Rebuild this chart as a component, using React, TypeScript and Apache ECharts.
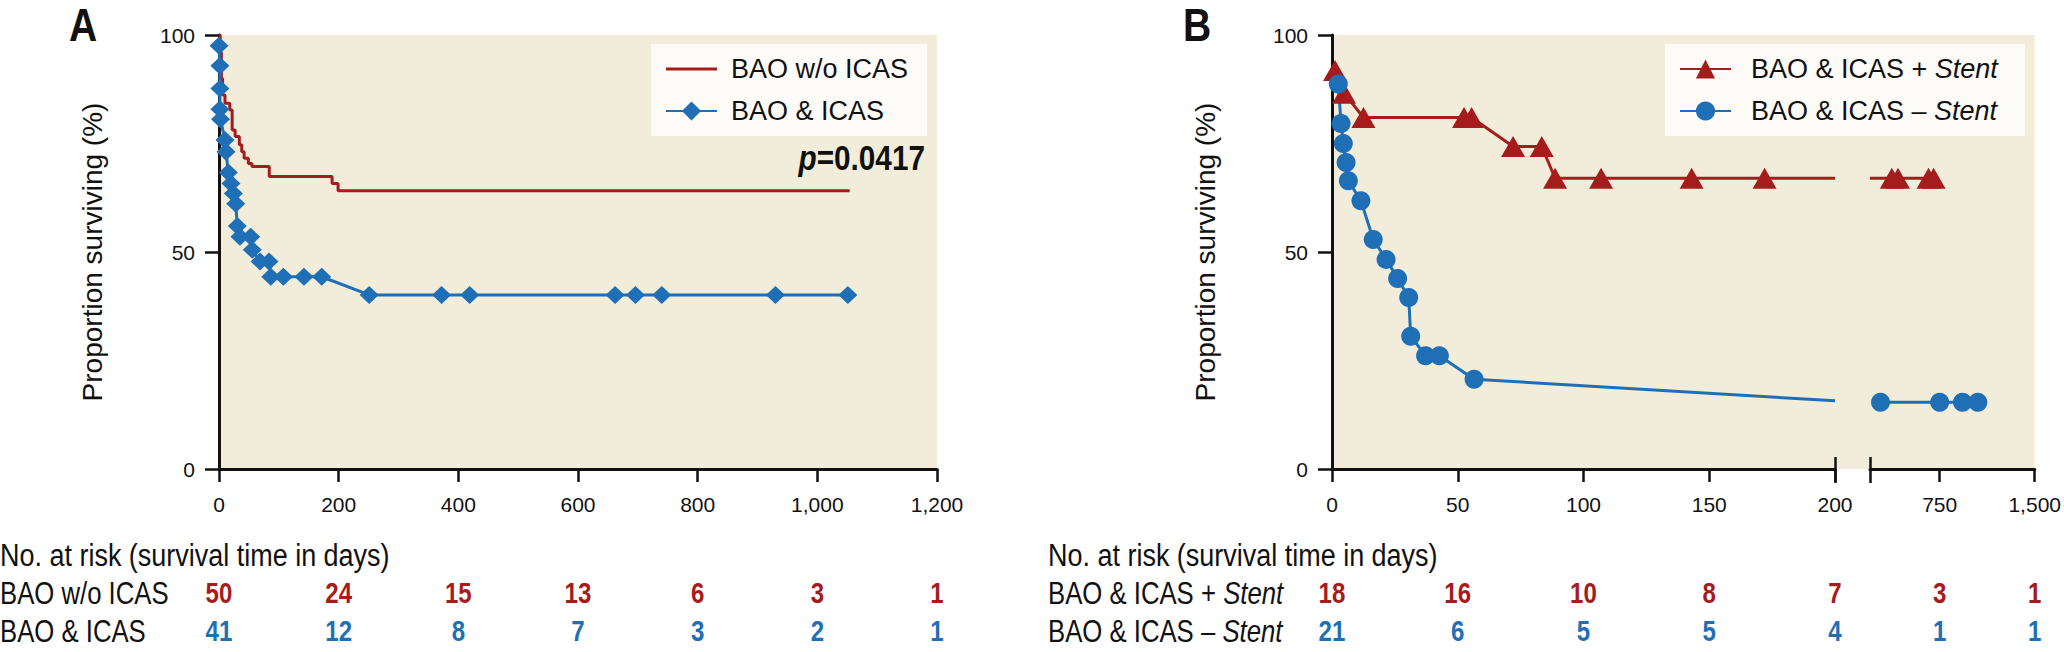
import React, { useEffect, useRef } from "react";
import * as echarts from "echarts";

const SANS = '"Liberation Sans", Arial, sans-serif';
const RED = "#a61c1c";
const BLUE = "#1f6fb7";
const INK = "#111111";
const PLOT_BG = "#f1edda";
const LEGEND_BG = "#fcfbf7";
const NARROW_SCALE = 0.83;

// ---------- Panel A ----------
const A_NAMES = ["BAO w/o ICAS", "BAO & ICAS"];
const A_NO_ICAS_DAYS = [0, 2, 4, 6, 10, 18, 22, 27, 34, 38, 42, 49, 55, 84, 189, 199, 1054];
const A_NO_ICAS_SURV = [100, 96, 90, 86.2, 84.3, 82.7, 78.1, 76.6, 74.7, 73.1, 71.6, 70.4, 69.7, 67.4, 65.8, 64.1, 64.1];
const A_ICAS_DAYS = [0, 1.5, 1.5, 1.5, 2.5, 10, 11.7, 15.6, 20, 24, 28, 30.6, 35, 53, 55.7, 68.6, 83.6, 86.5, 107.6, 142, 171.6, 251, 372, 419, 662, 696, 740, 930, 1051];
const A_ICAS_SURV = [97.5, 92.9, 87.7, 82.9, 80.6, 75.8, 73.1, 68.3, 65.8, 63.5, 61.1, 56.0, 53.5, 53.5, 50.5, 47.8, 47.8, 44.3, 44.3, 44.3, 44.3, 40.1, 40.1, 40.1, 40.1, 40.1, 40.1, 40.1, 40.1];
const A_TICKS = [0, 200, 400, 600, 800, 1000, 1200];
const A_RISK_NO_ICAS = [50, 24, 15, 13, 6, 3, 1];
const A_RISK_ICAS = [41, 12, 8, 7, 3, 2, 1];
const A_P_VALUE = "0.0417";

// ---------- Panel B ----------
const B_NAMES = ["BAO & ICAS + Stent", "BAO & ICAS \u2013 Stent"];
const B_BREAK_DAY = 200;
const B_STENT_DAYS_1 = [1.2, 4.8, 12.5, 52.5, 55.5, 72, 83.4, 88.7, 107, 143, 172, 200];
const B_STENT_SURV_1 = [91.8, 86.6, 81, 81, 81, 74.3, 74.3, 67, 67, 67, 67, 67];
const B_STENT_DAYS_2 = [200, 372, 421, 662, 702];
const B_STENT_SURV_2 = [67, 67, 67, 67, 67];
const B_NOSTENT_DAYS_1 = [2.5, 3.6, 4.5, 5.6, 6.5, 11.5, 16.4, 21.5, 26.1, 30.5, 31.3, 37.2, 42.7, 56.5, 200];
const B_NOSTENT_SURV_1 = [88.7, 79.6, 75, 70.6, 66.4, 61.8, 52.9, 48.3, 43.9, 39.5, 30.6, 26.1, 26.1, 20.7, 15.7];
const B_NOSTENT_DAYS_2 = [283, 750, 930, 1051];
const B_NOSTENT_SURV_2 = [15.4, 15.4, 15.4, 15.4];
const B_TICKS_1 = [0, 50, 100, 150, 200];
const B_TICKS_2 = [750, 1500];
const B_RISK_STENT = [18, 16, 10, 8, 7, 3, 1];
const B_RISK_NOSTENT = [21, 6, 5, 5, 4, 1, 1];

const Y_TITLE = "Proportion surviving (%)";
const RISK_TITLE = "No. at risk (survival time in days)";

const zip = (xs: number[], ys: number[]) => xs.map((x, i) => [x, ys[i]]);
const withBreak = (xs: number[], ys: number[]) =>
  xs.map((x, i) => (x === B_BREAK_DAY ? { value: [x, ys[i]], symbol: "none" } : [x, ys[i]]));
const fmt = (v: number) => v.toLocaleString("en-US");

const axisLineStyle = { color: INK, width: 3 };
const tickStyle = { color: INK, width: 2.5 };
const labelStyle = { fontFamily: SANS, fontSize: 21, color: INK };

function xAxisBase(gridIndex: number, min: number, max: number) {
  return {
    type: "value",
    gridIndex,
    position: "bottom",
    min,
    max,
    axisLine: { show: true, lineStyle: axisLineStyle },
    axisTick: { show: true, length: 13, lineStyle: tickStyle },
    axisLabel: { ...labelStyle, margin: 25, formatter: fmt },
    splitLine: { show: false },
  };
}

function yAxisBase(gridIndex: number) {
  return {
    type: "value",
    gridIndex,
    min: 0,
    max: 100,
    interval: 50,
    name: Y_TITLE,
    nameLocation: "middle",
    nameGap: 113,
    nameTextStyle: { fontFamily: SANS, fontSize: 28, color: INK },
    axisLine: { show: true, lineStyle: axisLineStyle },
    axisTick: { show: true, length: 14, lineStyle: tickStyle },
    axisLabel: { ...labelStyle, margin: 24 },
    splitLine: { show: false },
  };
}

function breakAxis(gridIndex: number, min: number, max: number) {
  return {
    type: "value",
    gridIndex,
    position: "bottom",
    min,
    max,
    offset: -12,
    axisLine: { show: false },
    axisTick: { show: true, length: 26, lineStyle: tickStyle, customValues: [B_BREAK_DAY] },
    axisLabel: { show: false },
    splitLine: { show: false },
  };
}

const legendCommon = {
  orient: "vertical",
  top: 44,
  itemWidth: 51,
  itemHeight: 24,
  itemGap: 12,
  backgroundColor: LEGEND_BG,
  borderWidth: 0,
  selectedMode: false,
  symbolKeepAspect: true,
};

export default function App() {
  const ref = useRef<HTMLDivElement>(null);

  useEffect(() => {
    if (!ref.current) return;
    const chart = echarts.init(ref.current, null, { renderer: "svg" });

    const option: any = {
      animation: false,
      backgroundColor: "#ffffff",
      grid: [
        { left: 219, top: 35, width: 718, height: 434, show: true, backgroundColor: PLOT_BG, borderWidth: 0 },
        { left: 1332, top: 35, width: 503, height: 434, show: true, backgroundColor: PLOT_BG, borderWidth: 0 },
        { left: 1870, top: 35, width: 168, height: 434, show: true, backgroundColor: PLOT_BG, borderWidth: 0 },
      ],
      xAxis: [
        { ...xAxisBase(0, A_TICKS[0], A_TICKS[A_TICKS.length - 1]), interval: 200 },
        { ...xAxisBase(1, B_TICKS_1[0], B_BREAK_DAY), interval: 50 },
        {
          ...xAxisBase(2, B_BREAK_DAY, B_TICKS_2[B_TICKS_2.length - 1]),
          axisTick: { show: true, length: 13, lineStyle: tickStyle, customValues: B_TICKS_2 },
          axisLabel: { ...labelStyle, margin: 25, formatter: fmt, customValues: B_TICKS_2 },
        },
        breakAxis(1, B_TICKS_1[0], B_BREAK_DAY),
        breakAxis(2, B_BREAK_DAY, B_TICKS_2[B_TICKS_2.length - 1]),
      ],
      yAxis: [
        yAxisBase(0),
        yAxisBase(1),
        { type: "value", gridIndex: 2, min: 0, max: 100, show: false },
      ],
      legend: [
        {
          ...legendCommon,
          left: 651,
          padding: [10, 19, 10, 14],
          data: [{ name: A_NAMES[0], icon: "path://M0,0h51v3h-51z" }, A_NAMES[1]],
          textStyle: { fontFamily: SANS, fontSize: 27, color: INK, lineHeight: 30, padding: [0, 0, 0, 9] },
        },
        {
          ...legendCommon,
          left: 1665,
          padding: [10, 27, 10, 14],
          data: B_NAMES,
          formatter: (name: string) => name.replace("Stent", "{i|Stent}"),
          textStyle: {
            fontFamily: SANS,
            fontSize: 27,
            color: INK,
            lineHeight: 30,
            padding: [0, 0, 0, 15],
            rich: { i: { fontFamily: SANS, fontSize: 27, fontStyle: "italic", color: INK, lineHeight: 30 } },
          },
        },
      ],
      series: [
        {
          type: "line",
          name: A_NAMES[0],
          xAxisIndex: 0,
          yAxisIndex: 0,
          step: "end",
          symbol: "none",
          data: zip(A_NO_ICAS_DAYS, A_NO_ICAS_SURV),
          lineStyle: { color: RED, width: 3 },
          itemStyle: { color: RED },
        },
        {
          type: "line",
          name: A_NAMES[1],
          xAxisIndex: 0,
          yAxisIndex: 0,
          symbol: "diamond",
          symbolSize: [19, 18],
          data: zip(A_ICAS_DAYS, A_ICAS_SURV),
          lineStyle: { color: BLUE, width: 3 },
          itemStyle: { color: BLUE },
        },
        {
          type: "line",
          name: B_NAMES[0],
          xAxisIndex: 1,
          yAxisIndex: 1,
          symbol: "triangle",
          symbolSize: [24, 21],
          data: withBreak(B_STENT_DAYS_1, B_STENT_SURV_1),
          lineStyle: { color: RED, width: 3 },
          itemStyle: { color: RED },
        },
        {
          type: "line",
          name: B_NAMES[0],
          xAxisIndex: 2,
          yAxisIndex: 2,
          symbol: "triangle",
          symbolSize: [24, 21],
          data: withBreak(B_STENT_DAYS_2, B_STENT_SURV_2),
          lineStyle: { color: RED, width: 3 },
          itemStyle: { color: RED },
        },
        {
          type: "line",
          name: B_NAMES[1],
          xAxisIndex: 1,
          yAxisIndex: 1,
          symbol: "circle",
          symbolSize: 19,
          data: withBreak(B_NOSTENT_DAYS_1, B_NOSTENT_SURV_1),
          lineStyle: { color: BLUE, width: 3 },
          itemStyle: { color: BLUE },
        },
        {
          type: "line",
          name: B_NAMES[1],
          xAxisIndex: 2,
          yAxisIndex: 2,
          symbol: "circle",
          symbolSize: 19,
          data: withBreak(B_NOSTENT_DAYS_2, B_NOSTENT_SURV_2),
          lineStyle: { color: BLUE, width: 3 },
          itemStyle: { color: BLUE },
        },
      ],
    };

    chart.setOption(option);

    const px = (axisIndex: number, v: number) => chart.convertToPixel({ xAxisIndex: axisIndex }, v) as number;
    const g: any[] = [];
    const txt = (x: number, y: number, text: string, o: any = {}) =>
      g.push({
        type: "text",
        x,
        y,
        scaleX: o.scaleX || NARROW_SCALE,
        silent: true,
        style: {
          text,
          fill: o.fill || INK,
          fontFamily: SANS,
          fontSize: o.fontSize || 31,
          fontWeight: o.fontWeight || "normal",
          align: o.align || "left",
          verticalAlign: "middle",
          rich: o.rich,
        },
      });

    // background of the gap between the two x segments of panel B
    const gapL = px(1, B_BREAK_DAY);
    const gapR = px(2, B_BREAK_DAY);
    g.push({ type: "rect", silent: true, z: -10, shape: { x: gapL - 1, y: 35, width: gapR - gapL + 2, height: 434 }, style: { fill: PLOT_BG } });

    // panel letters
    txt(83, 25, "A", { fontSize: 46, fontWeight: "bold", align: "center", scaleX: 0.85 });
    txt(1197, 25, "B", { fontSize: 46, fontWeight: "bold", align: "center", scaleX: 0.85 });

    // p value
    txt(925, 158, `{p|p}=${A_P_VALUE}`, {
      fontSize: 35,
      fontWeight: "bold",
      align: "right",
      scaleX: 0.85,
      rich: { p: { fontFamily: SANS, fontSize: 35, fontWeight: "bold", fontStyle: "italic", fill: INK } },
    });

    // risk table
    const rowY = [555, 593, 631];
    const italicRich = { i: { fontFamily: SANS, fontSize: 31, fontStyle: "italic", fill: INK } };
    txt(0, rowY[0], RISK_TITLE, { scaleX: 0.87 });
    txt(0, rowY[1], A_NAMES[0]);
    txt(0, rowY[2], A_NAMES[1]);
    txt(1048, rowY[0], RISK_TITLE, { scaleX: 0.87 });
    txt(1048, rowY[1], B_NAMES[0].replace("Stent", "{i|Stent}"), { rich: italicRich });
    txt(1048, rowY[2], B_NAMES[1].replace("Stent", "{i|Stent}"), { rich: italicRich });

    const num = (x: number, y: number, v: number, color: string) =>
      txt(x, y, String(v), { fill: color, fontWeight: "bold", fontSize: 29, align: "center" });
    A_TICKS.forEach((t, i) => {
      const x = px(0, t);
      num(x, rowY[1], A_RISK_NO_ICAS[i], RED);
      num(x, rowY[2], A_RISK_ICAS[i], BLUE);
    });
    const bTicks = [...B_TICKS_1.map((t) => px(1, t)), ...B_TICKS_2.map((t) => px(2, t))];
    bTicks.forEach((x, i) => {
      num(x, rowY[1], B_RISK_STENT[i], RED);
      num(x, rowY[2], B_RISK_NOSTENT[i], BLUE);
    });

    chart.setOption({ graphic: g });

    return () => chart.dispose();
  }, []);

  return (
    <div
      ref={ref}
      style={{ position: "fixed", left: 0, top: 0, width: 2064, height: 652, background: "#ffffff" }}
    />
  );
}
